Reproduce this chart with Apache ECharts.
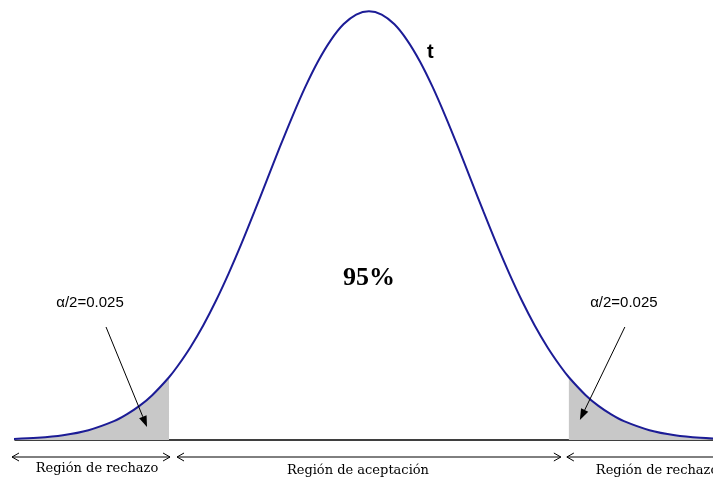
<!DOCTYPE html>
<html>
<head>
<meta charset="utf-8">
<script src="https://cdn.jsdelivr.net/npm/echarts@6/dist/echarts.min.js"></script>
<style>
  html, body { margin: 0; padding: 0; background: #fff; }
  #chart { width: 713px; height: 481px; }
</style>
</head>
<body>
<div id="chart"></div>
<script>
// t statistic values and density heights
var tValues = [-3.5, -3.25, -3, -2.75, -2.5, -2.375, -2.25, -2.125, -1.96, -1.875, -1.75, -1.625, -1.5, -1.375, -1.25, -1.125,
               -1, -0.875, -0.75, -0.625, -0.5, -0.375, -0.25, -0.125, 0,
               0.125, 0.25, 0.375, 0.5, 0.625, 0.75, 0.875, 1,
               1.125, 1.25, 1.375, 1.5, 1.625, 1.75, 1.875, 1.96, 2.125, 2.25, 2.375, 2.5, 2.75, 3, 3.25, 3.5];
var density = [0.0009, 0.0020, 0.0044, 0.0091, 0.0175, 0.0238, 0.0317, 0.0417, 0.0584, 0.0688, 0.0863, 0.1065, 0.1295, 0.1550, 0.1826, 0.2119,
               0.2420, 0.2721, 0.3011, 0.3282, 0.3521, 0.3718, 0.3867, 0.3958, 0.3989,
               0.3958, 0.3867, 0.3718, 0.3521, 0.3282, 0.3011, 0.2721, 0.2420,
               0.2119, 0.1826, 0.1550, 0.1295, 0.1065, 0.0863, 0.0688, 0.0584, 0.0417, 0.0317, 0.0238, 0.0175, 0.0091, 0.0044, 0.0020, 0.0009];
var critical = 1.96;
var alphaLabel = 'α/2=0.025';
var centerLabel = '95%';
var regionLabels = ['Región de rechazo', 'Región de aceptación', 'Región de rechazo'];

var curve = tValues.map(function (t, i) { return [t, density[i]]; });
var leftTail = curve.filter(function (p) { return p[0] <= -critical; });
var rightTail = curve.filter(function (p) { return p[0] >= critical; });

var chartDom = document.getElementById('chart');
var myChart = echarts.init(chartDom);

var option = {
    animation: false,
    grid: { left: 15, right: 0, top: 10, bottom: 41 },
    xAxis: {
        type: 'value',
        min: -3.47,
        max: 3.373,
        axisLine: { show: true, onZero: false, lineStyle: { color: '#000', width: 1.5 } },
        axisTick: { show: false },
        axisLabel: { show: false },
        splitLine: { show: false }
    },
    yAxis: {
        type: 'value',
        min: 0,
        max: 0.4,
        show: false
    },
    series: [
        {
            type: 'line',
            data: leftTail,
            smooth: 0.3,
            symbol: 'none',
            lineStyle: { width: 0 },
            areaStyle: { color: '#c8c8c8', opacity: 1 },
            z: 1
        },
        {
            type: 'line',
            data: rightTail,
            smooth: 0.3,
            symbol: 'none',
            lineStyle: { width: 0 },
            areaStyle: { color: '#c8c8c8', opacity: 1 },
            z: 1
        },
        {
            type: 'line',
            data: curve,
            smooth: 0.3,
            symbol: 'none',
            lineStyle: { color: '#1c1c96', width: 2 },
            z: 3
        }
    ]
};

myChart.setOption(option);

// --------------------------------------------------------
// annotations: arrows and labels placed from the axis scale
function px(x, y) {
    return myChart.convertToPixel({ gridIndex: 0 }, [x, y]);
}

var xl = px(-critical, 0)[0];
var xr = px(critical, 0)[0];
var base = px(0, 0)[1];
var ay = base + 17;
var serif = '"DejaVu Serif", "Liberation Serif", serif';
var sans = '"Liberation Sans", Arial, sans-serif';
var graphics = [];

function hArrow(x1, x2, leftHead, rightHead) {
    graphics.push({ type: 'line', shape: { x1: x1, y1: ay, x2: x2, y2: ay }, style: { stroke: '#000', lineWidth: 1 } });
    if (leftHead) {
        graphics.push({ type: 'polyline', shape: { points: [[x1 + 7, ay - 4], [x1, ay], [x1 + 7, ay + 4]] }, style: { stroke: '#000', fill: null, lineWidth: 1 } });
    }
    if (rightHead) {
        graphics.push({ type: 'polyline', shape: { points: [[x2 - 7, ay - 4], [x2, ay], [x2 - 7, ay + 4]] }, style: { stroke: '#000', fill: null, lineWidth: 1 } });
    }
}

hArrow(12, xl + 1, true, true);
hArrow(xl + 8, xr - 8, true, true);
hArrow(xr - 2, 730, true, false);

function dArrow(x1, y1, x2, y2) {
    var ang = Math.atan2(y2 - y1, x2 - x1);
    var len = 11, w = 4;
    var bx = x2 - len * Math.cos(ang), by = y2 - len * Math.sin(ang);
    graphics.push({ type: 'line', shape: { x1: x1, y1: y1, x2: bx, y2: by }, style: { stroke: '#000', lineWidth: 1 }, z: 10 });
    graphics.push({
        type: 'polygon',
        shape: { points: [[x2, y2], [bx + w * Math.sin(ang), by - w * Math.cos(ang)], [bx - w * Math.sin(ang), by + w * Math.cos(ang)]] },
        style: { fill: '#000' },
        z: 10
    });
}

dArrow(xl - 63, base - 113, xl - 22, base - 13);
dArrow(xr + 56, base - 113, xr + 11, base - 20);

function label(text, x, y, font, size, weight, align) {
    graphics.push({
        type: 'text',
        x: x, y: y,
        style: { text: text, fontFamily: font, fontSize: size, fontWeight: weight || 'normal', fill: '#000', align: align || 'center', verticalAlign: 'middle' },
        z: 10
    });
}

label(alphaLabel, xl - 79, base - 137, sans, 15);
label(alphaLabel, xr + 55, base - 137, sans, 15);
label(regionLabels[0], 97, base + 29, serif, 13);
label(regionLabels[1], (xl + xr) / 2 - 11, base + 31, serif, 13);
label(regionLabels[2], xr + 27, base + 31, serif, 13, 'normal', 'left');
label(centerLabel, px(0, 0)[0], base - 162, '"Liberation Serif", serif', 26, 'bold');
label('t', 427, 52, sans, 20, 'bold', 'left');

myChart.setOption({ graphic: graphics });
</script>
</body>
</html>
